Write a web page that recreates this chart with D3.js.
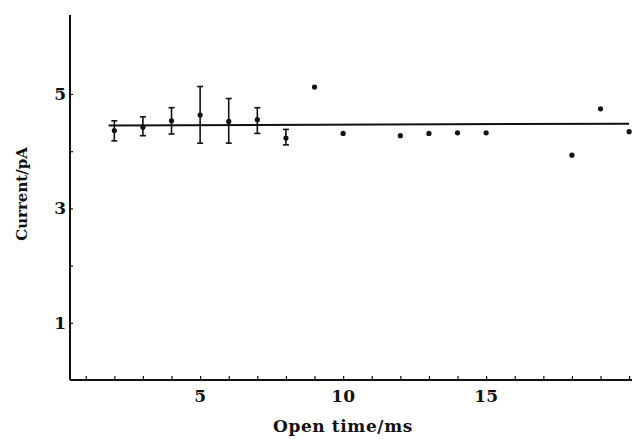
<!DOCTYPE html>
<html>
<head>
<meta charset="utf-8">
<script src="https://cdn.jsdelivr.net/npm/d3@7"></script>
<style>
  body { margin: 0; background: #fff; }
  svg { display: block; }
  .lbl { font-family: "DejaVu Serif", serif; font-weight: bold; fill: #111; }
</style>
</head>
<body>
<svg width="642" height="439"></svg>
<script>
// Points with error bars (x = 2..8)
const barTimes = [2, 3, 4, 5, 6, 7, 8];
const barMeans = [4.36, 4.42, 4.53, 4.63, 4.52, 4.55, 4.23];
const barLow = [4.18, 4.27, 4.30, 4.14, 4.14, 4.31, 4.11];
const barHigh = [4.53, 4.60, 4.76, 5.13, 4.92, 4.76, 4.38];

// Single points without error bars
const dotTimes = [9, 10, 12, 13, 14, 15, 18, 19, 20];
const dotValues = [5.12, 4.31, 4.27, 4.31, 4.32, 4.32, 3.93, 4.74, 4.34];

// Fitted line
const fitTimes = [1.8, 20];
const fitValues = [4.45, 4.48];

const xTicks = [1, 2, 3, 4, 5, 6, 7, 8, 9, 10, 11, 12, 13, 14, 15, 16, 17, 18, 19, 20];
const xLabels = [5, 10, 15];
const yTicks = [1, 2, 3, 4, 5];
const yLabels = [1, 3, 5];

const svg = d3.select("svg");
const ink = "#111";

const x = d3.scaleLinear().domain([0.45, 20.1]).range([70, 632]);
const y = d3.scaleLinear().domain([0, 6.38]).range([380, 15]);

// X axis
svg.append("g")
  .attr("transform", "translate(0," + y(0) + ")")
  .call(d3.axisTop(x).tickValues(xTicks).tickSize(4).tickFormat(""))
  .call(g => g.select(".domain").attr("stroke", ink).attr("stroke-width", 2).attr("d", "M" + x(0.45) + ",0H" + x(20.1)))
  .call(g => g.selectAll(".tick line").attr("stroke", ink).attr("stroke-width", 1.2));

svg.append("g")
  .selectAll("text")
  .data(xLabels)
  .enter()
  .append("text")
  .attr("class", "lbl")
  .attr("x", d => x(d))
  .attr("y", 402)
  .attr("text-anchor", "middle")
  .style("font-size", "17px")
  .text(d => d);

// Y axis
svg.append("g")
  .attr("transform", "translate(" + x(0.45) + ",0)")
  .call(d3.axisRight(y).tickValues(yTicks).tickSize(3).tickFormat(""))
  .call(g => g.select(".domain").attr("stroke", ink).attr("stroke-width", 2).attr("d", "M0," + y(0) + "V" + y(6.38)))
  .call(g => g.selectAll(".tick line").attr("stroke", ink).attr("stroke-width", 1.2));

svg.append("g")
  .selectAll("text")
  .data(yLabels)
  .enter()
  .append("text")
  .attr("class", "lbl")
  .attr("x", 66)
  .attr("y", d => y(d) + 6)
  .attr("text-anchor", "end")
  .style("font-size", "17px")
  .text(d => d);

// Axis titles
svg.append("text")
  .attr("class", "lbl")
  .attr("x", 343)
  .attr("y", 432)
  .attr("text-anchor", "middle")
  .style("font-size", "17px")
  .style("letter-spacing", "0.6px")
  .text("Open time/ms");

svg.append("text")
  .attr("class", "lbl")
  .attr("text-anchor", "middle")
  .attr("transform", "translate(27,194)rotate(-90)")
  .style("font-size", "15px")
  .text("Current/pA");

// Fit line
const line = d3.line().x(d => x(d[0])).y(d => y(d[1]));
svg.append("path")
  .datum(d3.zip(fitTimes, fitValues))
  .attr("d", line)
  .attr("fill", "none")
  .attr("stroke", ink)
  .attr("stroke-width", 2);

// Error bars
const bars = svg.append("g")
  .selectAll("g")
  .data(d3.range(barTimes.length))
  .enter()
  .append("g")
  .attr("stroke", ink)
  .attr("stroke-width", 1.6);
bars.append("line")
  .attr("x1", i => x(barTimes[i])).attr("x2", i => x(barTimes[i]))
  .attr("y1", i => y(barLow[i])).attr("y2", i => y(barHigh[i]));
bars.append("line")
  .attr("x1", i => x(barTimes[i]) - 3).attr("x2", i => x(barTimes[i]) + 3)
  .attr("y1", i => y(barLow[i])).attr("y2", i => y(barLow[i]));
bars.append("line")
  .attr("x1", i => x(barTimes[i]) - 3).attr("x2", i => x(barTimes[i]) + 3)
  .attr("y1", i => y(barHigh[i])).attr("y2", i => y(barHigh[i]));

// Dots
svg.append("g")
  .selectAll("circle")
  .data(d3.zip(barTimes.concat(dotTimes), barMeans.concat(dotValues)))
  .enter()
  .append("circle")
  .attr("cx", d => x(d[0]))
  .attr("cy", d => y(d[1]))
  .attr("r", 2.6)
  .attr("fill", ink);
</script>
</body>
</html>
